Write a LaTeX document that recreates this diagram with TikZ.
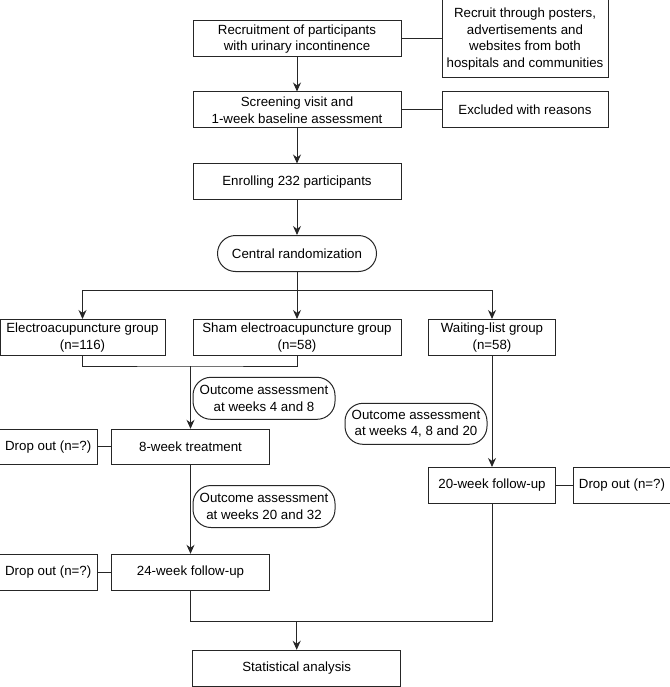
\documentclass[tikz,border=0pt]{standalone}
\usepackage{fontspec}
\setmainfont{Liberation Sans}
\usetikzlibrary{arrows.meta, positioning}

\begin{document}
\begin{tikzpicture}[
      x=1pt, y=-1pt, node distance=34pt and 40pt, >={Stealth[length=9pt, width=8pt]},
      box/.style={rectangle, draw=black!85, line width=1pt, minimum height=36pt, inner sep=2pt, align=center, font=\fontsize{13.3pt}{16.5pt}\selectfont},
      mainbox/.style={box, minimum width=208pt},
      sidebox/.style={box, minimum width=166pt},
      dropbox/.style={box, minimum width=98pt},
      roundbox/.style={box, rounded corners=18pt, minimum width=142pt, minimum height=42pt},
      line/.style={draw=black!85, line width=1pt},
      arrow/.style={line, ->}
    ]
    \useasboundingbox (0,0) rectangle (669,687);

    % Nodes
    \node[mainbox] (rec) at (297,39) {Recruitment of participants\\with urinary incontinence};
    \node[sidebox, right=of rec, minimum height=78pt] (src) {Recruit through posters,\\advertisements and\\websites from both\\hospitals and communities};
    \node[mainbox, below=of rec] (scr) {Screening visit and\\1-week baseline assessment};
    \node[sidebox, right=of scr] (exc) {Excluded with reasons};
    \node[mainbox, below=35pt of scr, minimum height=35.5pt] (enr) {Enrolling 232 participants};
    \node[box, rounded corners=18pt, minimum width=159pt, below=35pt of enr] (rand) {Central randomization};
    \node[mainbox, below=47pt of rand] (sham) {Sham electroacupuncture group\\(n=58)};
    \node[box, minimum width=165pt, left=27pt of sham] (ea) {Electroacupuncture group\\(n=116)};
    \node[box, minimum width=127pt, right=26.5pt of sham] (wl) {Waiting-list group\\(n=58)};
    \node[box, minimum width=157.6pt, minimum height=35pt] (trt8) at (190.5,446.8) {8-week treatment};
    \node[dropbox, minimum height=35pt, left=13.5pt of trt8] (drop1) {Drop out (n=?)};
    \node[box, minimum width=157.6pt, below=89pt of trt8] (fu24) {24-week follow-up};
    \node[dropbox, left=13.5pt of fu24] (drop2) {Drop out (n=?)};
    \node[box, minimum width=127pt, below=111pt of wl] (fu20) {20-week follow-up};
    \node[dropbox, right=16.5pt of fu20] (drop3) {Drop out (n=?)};
    \node[mainbox] (stat) at (296.7,668.3) {Statistical analysis};
    \node[roundbox] (oa1) at (264,398.3) {Outcome assessment\\at weeks 4 and 8};
    \node[roundbox] (oa2) at (264,506.5) {Outcome assessment\\at weeks 20 and 32};
    \node[roundbox, minimum height=41pt] (oa3) at (416,423.8) {Outcome assessment\\at weeks 4, 8 and 20};

    \coordinate (split) at (296.7,290);
    \coordinate (join1) at (190.5,366);
    \coordinate (join2) at (296.7,621.3);

    % Connections
    \draw[line] (rec) -- (src);
    \draw[line] (scr) -- (exc);
    \draw[arrow] (rec) -- (scr);
    \draw[arrow] (scr) -- (enr);
    \draw[arrow] (enr) -- (rand);
    \draw[arrow] (rand) -- (sham);
    \draw[arrow] (split) -| (ea);
    \draw[arrow] (split) -| (wl);
    \draw[line] (ea) |- (join1) -| (sham);
    \draw[arrow] (join1) -- (trt8);
    \draw[line] (drop1) -- (trt8);
    \draw[arrow] (trt8) -- (fu24);
    \draw[line] (drop2) -- (fu24);
    \draw[arrow] (wl) -- (fu20);
    \draw[line] (fu20) -- (drop3);
    \draw[line] (fu24) |- (join2) -| (fu20);
    \draw[arrow] (join2) -- (stat);
  \end{tikzpicture}
\end{document}
